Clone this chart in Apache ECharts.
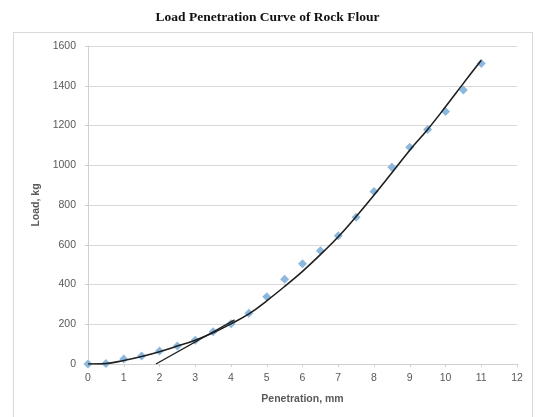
<!DOCTYPE html>
<html>
<head>
<meta charset="utf-8">
<script src="https://cdn.jsdelivr.net/npm/echarts@6/dist/echarts.min.js"></script>
<style>
  html, body { margin: 0; padding: 0; background: #ffffff; }
  #frame { position: absolute; left: 13px; top: 32px; width: 520px; height: 400px; border: 1px solid #d9d9d9; box-sizing: border-box; }
  #chart { position: absolute; left: 0; top: 0; width: 535px; height: 417px; }
</style>
</head>
<body>
<div id="frame"></div>
<div id="chart"></div>
<script>
// Measured penetration (mm) and load (kg)
const penetration = [0, 0.5, 1, 1.5, 2, 2.5, 3, 3.5, 4, 4.5, 5, 5.5, 6, 6.5, 7, 7.5, 8, 8.5, 9, 9.5, 10, 10.5, 11];
const load = [0, 3, 25, 40, 65, 90, 120, 162, 203, 255, 338, 426, 505, 570, 645, 738, 868, 990, 1090, 1180, 1270, 1378, 1512];

// Smoothed load-penetration curve
const curveX = [0, 0.5, 1, 1.5, 2, 2.5, 3, 3.5, 4, 4.5, 5, 5.5, 6, 6.5, 7, 7.5, 8, 8.5, 9, 9.5, 10, 10.5, 11];
const curveY = [0, 2, 18, 38, 62, 90, 120, 157, 202, 252, 318, 390, 466, 550, 640, 742, 850, 962, 1076, 1180, 1294, 1412, 1528];

// Origin correction tangent
const tangentX = [1.9, 4.1];
const tangentY = [0, 222];

// Axis ticks
const xTicks = [0, 1, 2, 3, 4, 5, 6, 7, 8, 9, 10, 11, 12];
const yTicks = [0, 200, 400, 600, 800, 1000, 1200, 1400, 1600];

const zip = (xs, ys) => xs.map((x, i) => [x, ys[i]]);

const labelFont = '"Liberation Sans", "DejaVu Sans", sans-serif';
const chart = echarts.init(document.getElementById('chart'));
chart.setOption({
  animation: false,
  title: {
    text: 'Load Penetration Curve of Rock Flour',
    left: 'center',
    top: 6,
    textStyle: { fontFamily: '"Liberation Serif", serif', fontSize: 13.5, fontWeight: 'bold', color: '#111' }
  },
  grid: { left: 88, right: 18, top: 46, bottom: 53 },
  xAxis: {
    type: 'value',
    min: xTicks[0],
    max: xTicks[xTicks.length - 1],
    interval: 1,
    name: 'Penetration, mm',
    nameLocation: 'middle',
    nameGap: 30,
    nameTextStyle: { fontFamily: labelFont, fontSize: 10.5, fontWeight: 'bold', color: '#595959' },
    axisLine: { lineStyle: { color: '#d0d0d0' } },
    axisTick: { show: true, length: 3, lineStyle: { color: '#d0d0d0' } },
    axisLabel: { fontFamily: labelFont, fontSize: 10.5, color: '#595959', margin: 9, formatter: v => String(v) },
    splitLine: { show: false }
  },
  yAxis: {
    type: 'value',
    min: yTicks[0],
    max: yTicks[yTicks.length - 1],
    interval: 200,
    name: 'Load, kg',
    nameLocation: 'middle',
    nameGap: 46,
    nameTextStyle: { fontFamily: labelFont, fontSize: 10.5, fontWeight: 'bold', color: '#595959' },
    axisLine: { show: true, lineStyle: { color: '#d0d0d0' } },
    axisTick: { show: true, length: 3, lineStyle: { color: '#d0d0d0' } },
    axisLabel: { fontFamily: labelFont, fontSize: 10.5, color: '#595959', margin: 12, formatter: v => String(v) },
    splitLine: { lineStyle: { color: '#d9d9d9' } }
  },
  series: [
    {
      type: 'line',
      data: zip(penetration, load),
      lineStyle: { width: 0, opacity: 0 },
      symbol: 'diamond',
      symbolSize: 9,
      itemStyle: { color: '#8cb8de' },
      z: 2
    },
    {
      type: 'line',
      data: zip(curveX, curveY),
      smooth: 0.4,
      showSymbol: false,
      lineStyle: { color: '#1f1f1f', width: 1.6 },
      z: 3
    },
    {
      type: 'line',
      data: zip(tangentX, tangentY),
      showSymbol: false,
      lineStyle: { color: '#1f1f1f', width: 1.4 },
      z: 3
    }
  ]
});
</script>
</body>
</html>
